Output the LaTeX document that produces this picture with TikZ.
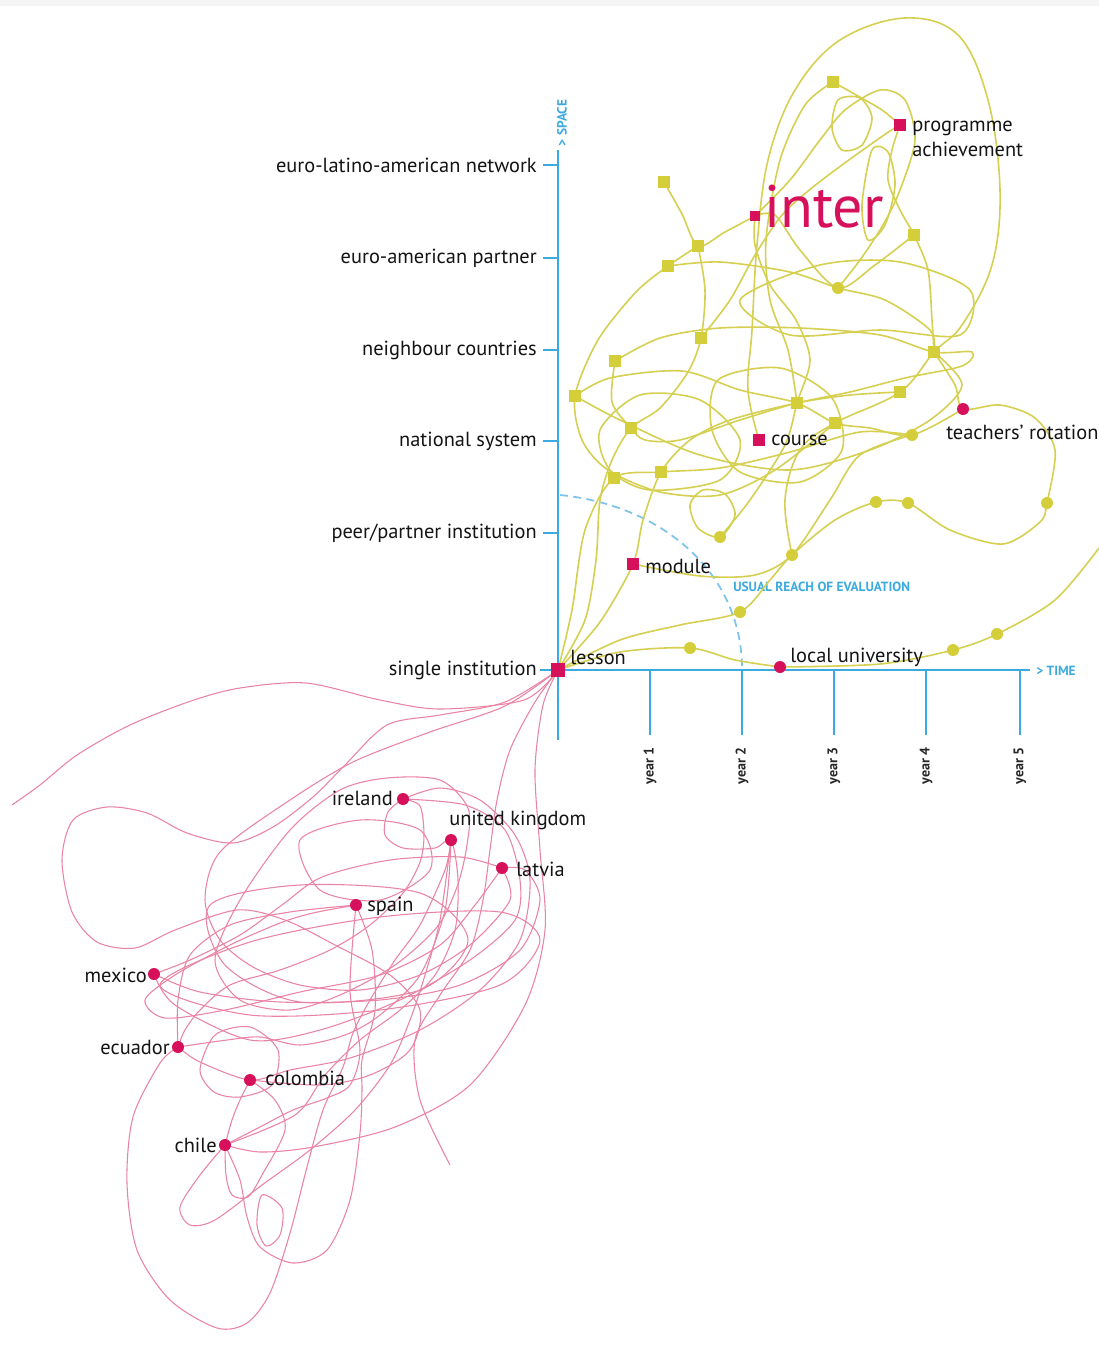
\documentclass[tikz,border=0pt]{standalone}
\usepackage{fontspec}
\setmainfont{PT Sans}
\usetikzlibrary{calc}
\definecolor{axisblue}{HTML}{3CAAE1}
\definecolor{dashblue}{HTML}{7EC4EA}
\definecolor{mag}{HTML}{D6105A}
\definecolor{olive}{HTML}{D4CE3A}
\definecolor{olivel}{HTML}{D6D052}
\definecolor{pinkl}{HTML}{EA84A4}
\tikzset{
  ysq/.style={rectangle, fill=olive, inner sep=0pt, minimum size=9pt},
  ydot/.style={circle, fill=olive, inner sep=0pt, minimum size=9pt},
  msq/.style={rectangle, fill=mag, inner sep=0pt, minimum size=9.5pt},
  mdot/.style={circle, fill=mag, inner sep=0pt, minimum size=9pt},
  ycurve/.style={draw=olivel, line width=1.2pt},
  pcurve/.style={draw=pinkl, line width=0.8pt},
  lbl/.style={font=\fontsize{15.3}{18.5}\selectfont, text=black!92, inner sep=0pt},
  axisline/.style={draw=axisblue, line width=2.2pt},
  tickline/.style={draw=axisblue, line width=1.5pt},
  bluecap/.style={text=axisblue, font=\fontsize{10}{11}\selectfont\bfseries, inner sep=0pt},
  yearlbl/.style={font=\fontsize{10.5}{12}\selectfont\bfseries, text=black!85, inner sep=0pt, rotate=90},
}
\begin{document}
\begin{tikzpicture}[x=0.75pt,y=-0.75pt]
\useasboundingbox (0,0) rectangle (1099,1349);
\fill[white] (0,0) rectangle (1099,1349);
\fill[gray!8] (0,0) rectangle (1099,6);

% ---------- positions ----------
\coordinate (lesson) at (558,670);
\coordinate (interp) at (755,216);
\coordinate (prog) at (900,125);
\coordinate (coursep) at (759,440);
\coordinate (modulep) at (633,564);
\coordinate (lu) at (780,667);
\coordinate (teach) at (963,409);
\coordinate (ya) at (833,82);
\coordinate (yb) at (664,182);
\coordinate (yc) at (698,246);
\coordinate (yd) at (668,266);
\coordinate (ye) at (914,235);
\coordinate (yf) at (838,288);
\coordinate (yg) at (701,338);
\coordinate (yh) at (615,361);
\coordinate (yi) at (575,396);
\coordinate (yj) at (934,352);
\coordinate (yk) at (631,428);
\coordinate (yl) at (797,403);
\coordinate (ym) at (835,423);
\coordinate (yn) at (900,392);
\coordinate (yo) at (912,435);
\coordinate (yp) at (661,472);
\coordinate (yq) at (614,478);
\coordinate (yr) at (720,537);
\coordinate (ys) at (792,555);
\coordinate (yt) at (876,502);
\coordinate (yu) at (908,503);
\coordinate (yv) at (1047,503);
\coordinate (yw) at (690,648);
\coordinate (yx) at (953,650);
\coordinate (yy) at (997,634);
\coordinate (yz) at (740,612);
\coordinate (ire) at (403,799);
\coordinate (uk) at (451,840);
\coordinate (lat) at (502,868);
\coordinate (spa) at (356,905);
\coordinate (mex) at (154,974);
\coordinate (ecu) at (178,1047);
\coordinate (col) at (250,1080);
\coordinate (chi) at (225,1145);

% ---------- axes ----------
\draw[axisline, line width=1.6pt] (558,150) -- (558,740);
\draw[axisline] (540,670) -- (1030,670);
\foreach \yy in {165,258,350,441,533,670} \draw[tickline] (543,\yy) -- (558,\yy);
\foreach \xx/\n in {650/1,742/2,834/3,926/4,1020/5} {
  \draw[tickline] (\xx,670) -- (\xx,735);
  \node[yearlbl] (yr\n) at (\xx,766) {year \n};
}
\node[bluecap, rotate=90] (spacelbl) at (562,123) {> SPACE};
\node[bluecap, anchor=west] (timelbl) at (1036,671) {> TIME};

% usual reach of evaluation
\draw[dashblue, line width=1.3pt, dash pattern=on 6pt off 4pt]
  (560,495) .. controls (660,505) and (740,570) .. (742,666);
\node[bluecap, anchor=west] (reach) at (733,587) {USUAL REACH OF EVALUATION};

% ---------- yellow paths ----------
\draw[ycurve] plot[smooth, tension=0.6] coordinates {(coursep) (748,390) (752,330) (757,245) (768,160) (795,90) (840,40) (905,18) (958,35) (988,100) (1000,190) (992,265) (962,325) (yj) (yn) (ym) (800,450) (785,500) (ys)};
\draw[ycurve] plot[smooth] coordinates {(ya) (858,96) (882,110) (prog)};
\draw[ycurve] plot[smooth] coordinates {(prog) (887,133) (853,157) (813,187) (782,215) (755,255) (730,300) (yg)};
\draw[ycurve] plot[smooth cycle] coordinates {(838,100) (860,98) (872,118) (862,145) (842,150) (832,128)};
\draw[ycurve] plot[smooth cycle] coordinates {(872,150) (888,152) (895,185) (885,225) (868,240) (862,205)};
\draw[ycurve] plot[smooth] coordinates {(interp) (790,180) (820,140) (845,110) (880,90) (905,100) (915,140) (900,190) (883,225) (860,260) (yf)};
\draw[ycurve] plot[smooth] coordinates {(ya) (805,105) (780,160) (766,240) (770,300) (788,350) (yl)};
\draw[ycurve] plot[smooth] coordinates {(yb) (682,214) (yc) (725,232) (interp)};
\draw[ycurve] plot[smooth] coordinates {(prog) (892,150) (888,180) (900,210) (ye) (928,270) (932,320) (yj)};
\draw[ycurve] plot[smooth] coordinates {(yc) (yd) (636,292) (598,340) (yi) (582,440) (608,470) (660,492) (720,495) (775,470) (ym)};
\draw[ycurve] plot[smooth] coordinates {(lesson) (585,620) (596,560) (600,500) (612,460) (yk) (660,408) (688,372) (yg) (705,290) (yc)};
\draw[ycurve] plot[smooth] coordinates {(lesson) (600,622) (modulep) (643,520) (yp) (690,440) (730,420) (yl) (850,395) (yn)};
\draw[ycurve] plot[smooth] coordinates {(yh) (660,338) (720,328) (800,328) (880,335) (yj) (972,352) (962,366) (905,378) (850,392) (yl) (740,420) (680,440) (645,440) (yk) (612,402) (yh)};
\draw[ycurve] plot[smooth] coordinates {(yi) (610,378) (682,371) (740,390) (yl) (ym) (870,428) (yo) (teach)};
\draw[ycurve] plot[smooth cycle] coordinates {(718,380) (780,368) (832,398) (842,450) (800,482) (740,472) (712,430)};
\draw[ycurve] plot[smooth cycle] coordinates {(600,430) (640,395) (700,400) (740,440) (720,480) (650,490) (610,470)};
\draw[ycurve] plot[smooth] coordinates {(yd) (720,262) (790,272) (yf) (885,300) (930,330) (yj)};
\draw[ycurve] plot[smooth] coordinates {(interp) (775,215) (800,250) (yf) (875,265) (ye)};
\draw[ycurve] plot[smooth] coordinates {(interp) (755,245) (770,285) (796,320) (810,360) (yl) (785,445) (750,500) (yr)};
\draw[ycurve] plot[smooth cycle] coordinates {(yr) (698,528) (690,505) (703,490) (725,494) (735,515)};
\draw[ycurve] plot[smooth] coordinates {(yi) (620,420) (700,455) (790,470) (870,450) (930,420) (962,385) (yj)};
\draw[ycurve] plot[smooth] coordinates {(lesson) (620,652) (yw) (735,660) (lu)};
\draw[ycurve] plot[smooth] coordinates {(lesson) (620,640) (680,625) (yz) (770,580) (ys) (835,520) (yt) (yu) (950,530) (1003,544) (1040,522) (yv) (1055,450) (1035,418) (1000,405) (teach) (955,385) (yj)};
\draw[ycurve] plot[smooth] coordinates {(lu) (880,664) (yx) (yy) (1055,600) (1099,548)};
\draw[ycurve] plot[smooth] coordinates {(modulep) (700,576) (755,575) (ys) (830,500) (860,455) (yo)};
\draw[ycurve] plot[smooth] coordinates {(lesson) (572,610) (585,530) (yq) (yp) (720,468) (790,452) (860,432) (yo)};
\draw[ycurve] plot[smooth cycle] coordinates {(740,300) (820,265) (900,262) (970,290) (960,335) (880,330) (790,335)};

% ---------- pink paths ----------
\draw[pcurve] plot[smooth] coordinates {(lesson) (524,700) (440,709) (380,700) (306,683) (240,688) (191,701) (130,725) (77,755) (40,785) (12,805)};
\draw[pcurve] plot[smooth] coordinates {(lesson) (505,702) (440,715) (387,725) (345,765) (313,797) (273,827) (233,843) (187,833) (147,813) (107,807) (73,820) (62,860) (72,912) (97,942) (135,948) (175,930) (237,910) (285,920) (335,945) (390,975) (420,1010) (410,1050) (370,1075) (320,1085) (col)};
\draw[pcurve] plot[smooth] coordinates {(lesson) (505,706) (430,732) (353,762) (287,802) (220,852) (205,900) (220,940) (253,967) (300,985) (360,990) (420,975) (470,945) (510,900) (lat)};
\draw[pcurve] plot[smooth cycle] coordinates {(215,960) (240,900) (290,830) (340,790) (387,778) (440,780) (468,808) (467,845) (457,887) (437,927) (395,965) (340,995) (290,1010) (240,1000)};
\draw[pcurve] plot[smooth] coordinates {(ire) (388,812) (385,835) (403,848) (435,848) (uk) (458,880) (455,930) (435,975) (400,1010) (360,1040) (325,1075) (295,1115) (chi)};
\draw[pcurve] plot[smooth] coordinates {(ire) (420,806) (424,835) (420,862) (403,893) (370,925) (330,950) (280,970) (230,985) (200,1010) (185,1030) (ecu)};
\draw[pcurve] plot[smooth] coordinates {(lesson) (535,702) (510,750) (497,800) (490,850) (483,900) (470,950) (440,995) (415,1040) (420,1100) (450,1165)};
\draw[pcurve] plot[smooth] coordinates {(lesson) (543,705) (535,770) (540,850) (545,930) (525,1005) (470,1085) (395,1127) (313,1147) (260,1152) (chi)};
\draw[pcurve] plot[smooth] coordinates {(lat) (460,857) (390,860) (322,877) (282,905) (240,935) (190,960) (mex)};
\draw[pcurve] plot[smooth] coordinates {(spa) (313,913) (280,923) (230,945) (175,975) (145,1000) (165,1018) (225,1010) (300,992) (380,975) (440,945) (475,905) (lat)};
\draw[pcurve] plot[smooth] coordinates {(mex) (175,1005) (250,1040) (320,1030) (400,1000) (470,960) (515,920) (520,880) (505,830) (465,805) (ire)};
\draw[pcurve] plot[smooth cycle] coordinates {(160,985) (250,942) (380,917) (500,912) (540,940) (500,985) (380,1010) (250,1015)};
\draw[pcurve] plot[smooth cycle] coordinates {(210,905) (300,885) (420,893) (468,940) (420,990) (300,1002) (225,965)};
\draw[pcurve] plot[smooth cycle] coordinates {(300,840) (360,820) (420,830) (430,870) (380,900) (320,890)};
\draw[pcurve] plot[smooth] coordinates {(mex) (200,992) (280,1002) (380,1000) (460,985) (520,950) (540,900) (525,870) (lat)};
\draw[pcurve] plot[smooth] coordinates {(ecu) (200,1062) (col) (290,1070) (350,1058) (420,1030) (480,990) (520,940) (530,880) (515,835) (480,800) (440,788) (ire)};
\draw[pcurve] plot[smooth] coordinates {(ecu) (227,1040) (260,1037) (300,1045) (345,1035) (380,1015) (420,975) (445,910) (uk)};
\draw[pcurve] plot[smooth] coordinates {(ecu) (178,1000) (190,955) (230,925) (290,912) (spa)};
\draw[pcurve] plot[smooth] coordinates {(ecu) (160,1063) (133,1117) (127,1183) (137,1250) (170,1300) (217,1328) (247,1323) (270,1293) (290,1233) (307,1167) (323,1110) (343,1067) (353,1033) (370,1000) (395,960) (420,925) (445,870) (uk)};
\draw[pcurve] plot[smooth] coordinates {(spa) (372,950) (375,1010) (362,1060) (362,1090) (360,1133) (350,1200) (327,1250) (293,1263) (260,1247) (247,1217) (240,1180) (chi)};
\draw[pcurve] plot[smooth cycle] coordinates {(262,1195) (282,1208) (280,1235) (266,1246) (257,1225)};
\draw[pcurve] plot[smooth] coordinates {(chi) (200,1175) (180,1207) (190,1225) (215,1220) (262,1185) (310,1150) (355,1110) (390,1065) (410,1020) (425,975) (440,920) (uk)};
\draw[pcurve] plot[smooth] coordinates {(chi) (260,1127) (293,1110) (327,1098) (350,1085) (360,1050) (350,990) (spa)};
\draw[pcurve] plot[smooth] coordinates {(chi) (226,1175) (232,1195) (248,1197) (262,1175) (285,1130) (275,1100) (col)};
\draw[pcurve] plot[smooth cycle] coordinates {(200,1070) (215,1035) (250,1027) (278,1050) (272,1085) (240,1097) (214,1092)};
\draw[pcurve] plot[smooth] coordinates {(col) (240,1100) (232,1120) (chi)};

% ---------- yellow nodes ----------
\foreach \p in {ya,yb,yc,yd,ye,yg,yh,yi,yj,yk,yl,ym,yn,yp,yq}
  \node[ysq] (n\p) at (\p) {};
\foreach \p in {yf,yo,yr,ys,yt,yu,yv,yw,yx,yy,yz}
  \node[ydot] (n\p) at (\p) {};

% ---------- magenta nodes and labels ----------
\node[msq, minimum size=10.5pt] (nlesson) at (lesson) {};
\node[msq, minimum size=8pt] (ninter) at (interp) {};
\node[msq] (nprog) at (prog) {};
\node[msq] (ncourse) at (coursep) {};
\node[msq] (nmodule) at (modulep) {};
\node[mdot] (nlu) at (lu) {};
\node[mdot] (nteach) at (teach) {};
\foreach \p in {ire,uk,lat,spa,mex,ecu,col,chi}
  \node[mdot] (n\p) at (\p) {};

\node[lbl, anchor=west] (tlesson) at (570,657) {lesson};
\node[lbl, anchor=west] (tmodule) at (645,566) {module};
\node[lbl, anchor=west] (tcourse) at (771,440) {course};
\node[lbl, anchor=west] (tlu) at (790,657) {local university};
\node[lbl, anchor=west] (tteach) at (946,432) {teachers’ rotation};
\node[lbl, anchor=west, align=left] (tprog) at (912,139) {programme\\achievement};
\node[anchor=west, inner sep=0pt, text=mag, font=\fontsize{45}{45}\selectfont] (tinter) at (764,207) {inter};

\node[lbl, anchor=east] (s1) at (537,165) {euro-latino-american network};
\node[lbl, anchor=east] (s2) at (537,258) {euro-american partner};
\node[lbl, anchor=east] (s3) at (537,350) {neighbour countries};
\node[lbl, anchor=east] (s4) at (537,441) {national system};
\node[lbl, anchor=east] (s5) at (537,533) {peer/partner institution};
\node[lbl, anchor=east] (s6) at (537,670) {single institution};

\node[lbl, anchor=east] (tire) at (393,798) {ireland};
\node[lbl, anchor=west] (tuk) at (449,820) {united kingdom};
\node[lbl, anchor=west] (tlat) at (516,869) {latvia};
\node[lbl, anchor=west] (tspa) at (367,906) {spain};
\node[lbl, anchor=east] (tmex) at (147,975) {mexico};
\node[lbl, anchor=east] (tecu) at (170,1047) {ecuador};
\node[lbl, anchor=west] (tcol) at (265,1078) {colombia};
\node[lbl, anchor=east] (tchi) at (217,1145) {chile};
\end{tikzpicture}
\end{document}
